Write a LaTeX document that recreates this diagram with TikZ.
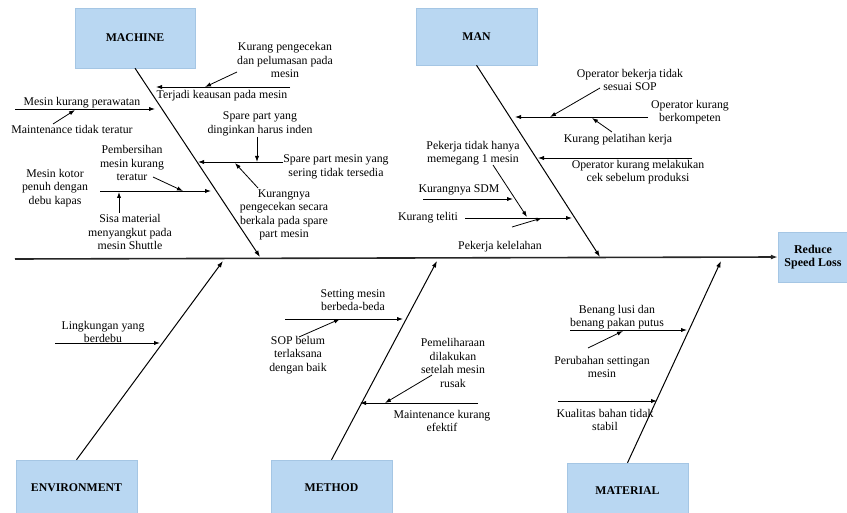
\documentclass[tikz,border=0pt]{standalone}
\usepackage{fontspec}
\setmainfont{Liberation Serif}
\usetikzlibrary{arrows.meta}
\definecolor{boxblue}{RGB}{185,215,242}
\definecolor{boxedge}{RGB}{165,198,228}
\begin{document}
\begin{tikzpicture}[x=1pt,y=-1pt,
  lbl/.style={font=\fontsize{11.8}{13.5}\selectfont, align=center, inner sep=0pt},
  cat/.style={fill=boxblue, draw=boxedge, line width=0.4pt, font=\fontsize{11.8}{13.5}\selectfont\bfseries, align=center, inner sep=0pt},
  arr/.style={-{Latex[length=6pt,width=4.2pt]}, line width=0.8pt},
  bone/.style={-{Latex[length=6.5pt,width=4.5pt]}, line width=1pt},
  spine/.style={-{Latex[length=7pt,width=5pt]}, line width=1.6pt, draw=black!85}]
\useasboundingbox (0,0) rectangle (847,513);

% category boxes
\node[cat, minimum width=120pt, minimum height=60pt] (machine) at (135,38) {MACHINE};
\node[cat, minimum width=121pt, minimum height=57pt] (man) at (476.5,36.5) {MAN};
\node[cat, minimum width=121pt, minimum height=56pt] (env) at (76.5,488) {ENVIRONMENT};
\node[cat, minimum width=121pt, minimum height=56pt] (method) at (331.5,488) {METHOD};
\node[cat, minimum width=121pt, minimum height=56pt] (material) at (627.5,491) {MATERIAL};
\node[cat, minimum width=70pt, minimum height=50pt, font=\fontsize{12}{13}\selectfont\bfseries] (reduce) at (813,257) {Reduce\\Speed Loss};

% spine and main bones
\coordinate (s0) at (15,259);
\coordinate (tMachine) at (260,257);
\coordinate (tMan) at (600,257);
\coordinate (tEnv) at (223,261);
\coordinate (tMethod) at (437,261);
\coordinate (tMaterial) at (721,261);
\draw[spine] (s0) -- (reduce.west);
\draw[bone] (machine.south) -- (tMachine);
\draw[bone] (man.south) -- (tMan);
\draw[bone] (env.north) -- (tEnv);
\draw[bone] (method.north) -- (tMethod);
\draw[bone] (material.north) -- (tMaterial);

% ---------- MACHINE ----------
\node[lbl] (m1) at (222,96) {Terjadi keausan pada mesin};
\coordinate (m1s) at (290,87); \coordinate (m1t) at (156,87);
\draw[arr] (m1s) -- (m1t);
\node[lbl] (m1a) at (285,60) {Kurang pengecekan\\dan pelumasan pada\\mesin};
\coordinate (m1as) at (237,72); \coordinate (m1at) at (205,87);
\draw[arr] (m1as) -- (m1at);

\node[lbl] (m2) at (82,103) {Mesin kurang perawatan};
\coordinate (m2s) at (15,109); \coordinate (m2t) at (155,109);
\draw[arr] (m2s) -- (m2t);
\node[lbl] (m2a) at (72,129) {Maintenance tidak teratur};
\coordinate (m2as) at (53,124); \coordinate (m2at) at (75,110);
\draw[arr] (m2as) -- (m2at);

\node[lbl] (m3) at (336,167) {Spare part mesin yang\\sering tidak tersedia};
\coordinate (m3s) at (283,162); \coordinate (m3t) at (198,162);
\draw[arr] (m3s) -- (m3t);
\node[lbl] (m3a) at (260,124) {Spare part yang\\dinginkan harus inden};
\coordinate (m3as) at (257,137); \coordinate (m3at) at (257,162);
\draw[arr] (m3as) -- (m3at);
\node[lbl] (m3b) at (284,215) {Kurangnya\\pengecekan secara\\berkala pada spare\\part mesin};
\coordinate (m3bs) at (258,188); \coordinate (m3bt) at (235,163);
\draw[arr] (m3bs) -- (m3bt);

\node[lbl] (m4) at (55,188) {Mesin kotor\\penuh dengan\\debu kapas};
\coordinate (m4s) at (100,191); \coordinate (m4t) at (211,191);
\draw[arr] (m4s) -- (m4t);
\node[lbl] (m4a) at (132,163) {Pembersihan\\mesin kurang\\teratur};
\coordinate (m4as) at (153,177); \coordinate (m4at) at (183,191);
\draw[arr] (m4as) -- (m4at);
\node[lbl] (m4b) at (130,232) {Sisa material\\menyangkut pada\\mesin Shuttle};
\coordinate (m4bs) at (119,213); \coordinate (m4bt) at (119,192);
\draw[arr] (m4bs) -- (m4bt);

% ---------- MAN ----------
\node[lbl] (n1) at (690,112) {Operator kurang\\berkompeten};
\coordinate (n1s) at (648,117); \coordinate (n1t) at (515,117);
\draw[arr] (n1s) -- (n1t);
\node[lbl] (n1a) at (630,80) {Operator bekerja tidak\\sesuai SOP};
\coordinate (n1as) at (600,88); \coordinate (n1at) at (550,117);
\draw[arr] (n1as) -- (n1at);
\node[lbl] (n1b) at (618,140) {Kurang pelatihan kerja};
\coordinate (n1bs) at (612,132); \coordinate (n1bt) at (592,118);
\draw[arr] (n1bs) -- (n1bt);

\node[lbl] (n2) at (638,172) {Operator kurang melakukan\\cek sebelum produksi};
\coordinate (n2s) at (692,158); \coordinate (n2t) at (538,158);
\draw[arr] (n2s) -- (n2t);

\node[lbl] (n3) at (428,218) {Kurang teliti};
\coordinate (n3s) at (465,218); \coordinate (n3t) at (572,218);
\draw[arr] (n3s) -- (n3t);
\node[lbl] (n3a) at (459,190) {Kurangnya SDM};
\coordinate (n3as) at (423,199); \coordinate (n3at) at (513,199);
\draw[arr] (n3as) -- (n3at);
\node[lbl] (n3b) at (473,153) {Pekerja tidak hanya\\memegang 1 mesin};
\coordinate (n3bs) at (493,165); \coordinate (n3bt) at (527,217);
\draw[arr] (n3bs) -- (n3bt);
\node[lbl] (n3c) at (500,247) {Pekerja kelelahan};
\coordinate (n3cs) at (512,227); \coordinate (n3ct) at (542,218);
\draw[arr] (n3cs) -- (n3ct);

% ---------- ENVIRONMENT ----------
\node[lbl] (e1) at (103,332) {Lingkungan yang\\berdebu};
\coordinate (e1s) at (55,343); \coordinate (e1t) at (160,343);
\draw[arr] (e1s) -- (e1t);

% ---------- METHOD ----------
\node[lbl] (t1) at (353,300) {Setting mesin\\berbeda-beda};
\coordinate (t1s) at (285,319); \coordinate (t1t) at (403,319);
\draw[arr] (t1s) -- (t1t);
\node[lbl] (t1a) at (298,355) {SOP belum\\terlaksana\\dengan baik};
\coordinate (t1as) at (299,337); \coordinate (t1at) at (340,319);
\draw[arr] (t1as) -- (t1at);
\node[lbl] (t2) at (442,421) {Maintenance kurang\\efektif};
\coordinate (t2s) at (478,403); \coordinate (t2t) at (360,403);
\draw[arr] (t2s) -- (t2t);
\node[lbl] (t2a) at (453,363) {Pemeliharaan\\dilakukan\\setelah mesin\\rusak};
\coordinate (t2as) at (432,375); \coordinate (t2at) at (385,403);
\draw[arr] (t2as) -- (t2at);

% ---------- MATERIAL ----------
\node[lbl] (r1) at (617,317) {Benang lusi dan\\benang pakan putus};
\coordinate (r1s) at (570,330); \coordinate (r1t) at (687,330);
\draw[arr] (r1s) -- (r1t);
\node[lbl] (r1a) at (602,367) {Perubahan settingan\\mesin};
\coordinate (r1as) at (588,348); \coordinate (r1at) at (623,331);
\draw[arr] (r1as) -- (r1at);
\node[lbl] (r2) at (605,420) {Kualitas bahan tidak\\stabil};
\coordinate (r2s) at (558,401); \coordinate (r2t) at (657,401);
\draw[arr] (r2s) -- (r2t);
\end{tikzpicture}
\end{document}
